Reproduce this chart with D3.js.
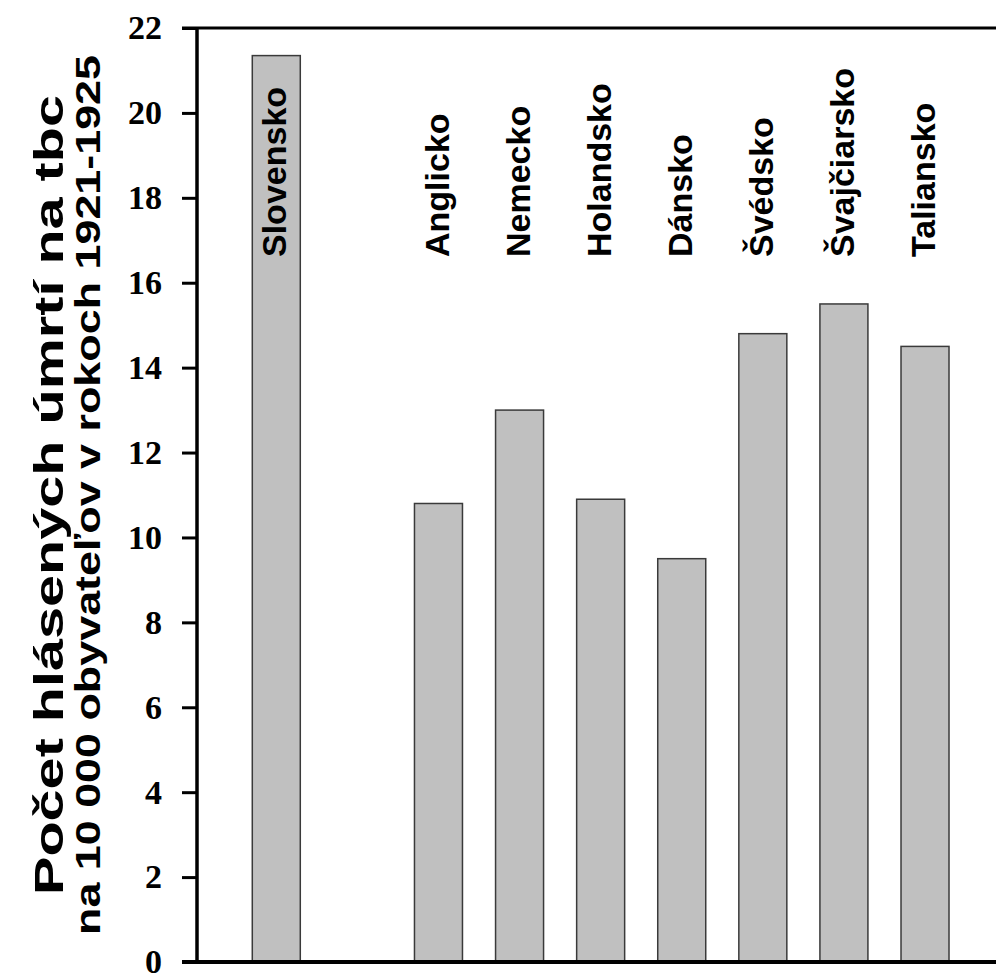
<!DOCTYPE html>
<html>
<head>
<meta charset="utf-8">
<script src="https://cdn.jsdelivr.net/npm/d3@7/dist/d3.min.js"></script>
<style>
  html, body { margin: 0; padding: 0; background: #fff; }
  svg { display: block; }
</style>
</head>
<body>
<svg id="chart" width="996" height="974"></svg>
<script>
// ---- data ----
const slots = ["", "Slovensko", " ", "Anglicko", "Nemecko", "Holandsko", "Dánsko", "Švédsko", "Švajčiarsko", "Taliansko"];
const countries = ["Slovensko", "Anglicko", "Nemecko", "Holandsko", "Dánsko", "Švédsko", "Švajčiarsko", "Taliansko"];
const values = [21.35, 10.8, 13.0, 10.9, 9.5, 14.8, 15.5, 14.5];
const yTicks = [0, 2, 4, 6, 8, 10, 12, 14, 16, 18, 20, 22];
const titleLines = ["Počet hlásených úmrtí na tbc", "na 10 000 obyvateľov v rokoch 1921-1925"];

// ---- layout ----
const svg = d3.select("#chart");
const plotLeft = 197, plotTop = 28, plotBottom = 962, plotRight = 996;

const x = d3.scalePoint().domain(slots).range([195.2, 195.2 + 81.09 * 9]);
const y = d3.scaleLinear().domain([0, 22]).range([plotBottom, plotTop]);
const barW = 48;

// bars
svg.append("g").selectAll("rect")
  .data(countries)
  .join("rect")
  .attr("x", (d) => x(d) - barW / 2)
  .attr("y", (d, i) => y(values[i]))
  .attr("width", barW)
  .attr("height", (d, i) => y(0) - y(values[i]))
  .attr("fill", "#c0c0c0")
  .attr("stroke", "#3a3a3a")
  .attr("stroke-width", 1.5);

// bar labels
svg.append("g").selectAll("text")
  .data(countries)
  .join("text")
  .attr("transform", (d) => `translate(${x(d)},257) rotate(-90)`)
  .attr("dy", "0.3em")
  .attr("text-anchor", "start")
  .attr("font-family", "'Liberation Sans', Arial, sans-serif")
  .attr("font-weight", "bold")
  .attr("font-size", 34)
  .attr("fill", "#000")
  .text((d) => d);

// top frame line
svg.append("line")
  .attr("x1", 182).attr("x2", plotRight)
  .attr("y1", plotTop).attr("y2", plotTop)
  .attr("stroke", "#000").attr("stroke-width", 3);

// y axis
const yAxis = d3.axisLeft(y).tickValues(yTicks).tickSize(15).tickPadding(20).tickFormat(d3.format("d"));
const gy = svg.append("g").attr("transform", `translate(${plotLeft},0)`).call(yAxis);
gy.select(".domain").attr("stroke", "#000").attr("stroke-width", 3.5).attr("d", `M0,${plotTop}V${plotBottom}`);
gy.selectAll(".tick line").attr("stroke", "#000").attr("stroke-width", 3);
gy.selectAll(".tick text")
  .attr("font-family", "'Liberation Serif', 'Times New Roman', serif")
  .attr("font-weight", "bold")
  .attr("font-size", 34)
  .attr("fill", "#000");

// bottom axis line
svg.append("line")
  .attr("x1", 182).attr("x2", plotRight)
  .attr("y1", plotBottom).attr("y2", plotBottom)
  .attr("stroke", "#000").attr("stroke-width", 4);

// y title
const title = svg.append("text")
  .attr("transform", `translate(0,495) rotate(-90)`)
  .attr("text-anchor", "middle")
  .attr("font-family", "'Liberation Sans', Arial, sans-serif")
  .attr("font-weight", "bold")
  .attr("fill", "#000");
title.selectAll("tspan")
  .data(titleLines)
  .join("tspan")
  .attr("x", 0)
  .attr("y", (d, i) => i === 0 ? 63 : 100)
  .attr("font-size", (d, i) => i === 0 ? 41 : 35)
  .attr("textLength", (d, i) => i === 0 ? 800 : 880)
  .attr("lengthAdjust", "spacingAndGlyphs")
  .text((d) => d);
</script>
</body>
</html>
